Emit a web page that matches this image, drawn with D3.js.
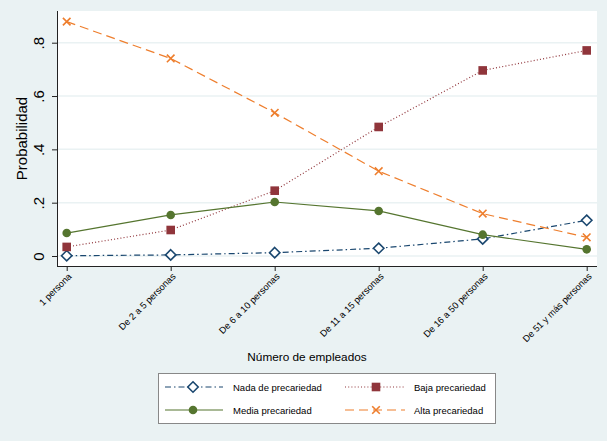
<!DOCTYPE html>
<html>
<head>
<meta charset="utf-8">
<script src="https://cdn.jsdelivr.net/npm/d3@7"></script>
<style>
  html, body { margin: 0; padding: 0; background: #EAF2F3; }
  svg { display: block; font-family: "Liberation Sans", Arial, sans-serif; }
</style>
</head>
<body>
<svg id="chart" width="607" height="441"></svg>
<script>
const categories = ["1 persona", "De 2 a 5 personas", "De 6 a 10 personas", "De 11 a 15 personas", "De 16 a 50 personas", "De 51 y más personas"];
const nada  = [0.001, 0.004, 0.0125, 0.029, 0.064, 0.134];
const baja  = [0.034, 0.0975, 0.245, 0.484, 0.696, 0.771];
const media = [0.086, 0.154, 0.2025, 0.169, 0.080, 0.025];
const alta  = [0.879, 0.741, 0.537, 0.318, 0.159, 0.070];
const yTicks = [0, 0.2, 0.4, 0.6, 0.8];
const yTickLabels = ["0", ".2", ".4", ".6", ".8"];

const series = [
  { name: "Nada de precariedad", values: nada,  color: "#1A476F", dash: "6,3,1.5,3", marker: "diamond" },
  { name: "Baja precariedad",    values: baja,  color: "#90353B", dash: "1,2.2",     marker: "square" },
  { name: "Media precariedad",   values: media, color: "#55752F", dash: null,        marker: "circle" },
  { name: "Alta precariedad",    values: alta,  color: "#EE7E2D", dash: "9,5",       marker: "x" }
];

const svg = d3.select("#chart");
const plot = { left: 57, right: 597, top: 11, bottom: 266 };

svg.append("rect").attr("x", 0).attr("y", 0).attr("width", 607).attr("height", 441).attr("fill", "#EAF2F3");
svg.append("rect").attr("x", plot.left).attr("y", plot.top)
  .attr("width", plot.right - plot.left).attr("height", plot.bottom - plot.top).attr("fill", "#FFFFFF");

const x = d3.scalePoint().domain(categories).range([66.7, 586.7]);
const y = d3.scaleLinear().domain([0, 0.8]).range([256, 42.7]);

// gridlines
svg.append("g").selectAll("line").data(yTicks).join("line")
  .attr("x1", plot.left).attr("x2", plot.right)
  .attr("y1", d => y(d)).attr("y2", d => y(d))
  .attr("stroke", "#EAF2F3").attr("stroke-width", 1.5);

// y axis
const yAxis = svg.append("g").attr("transform", `translate(${plot.left},0)`)
  .call(d3.axisLeft(y).tickValues(yTicks).tickFormat((d, i) => yTickLabels[i]).tickSize(5).tickPadding(0));
yAxis.select(".domain").attr("stroke", "#222").attr("d", `M0.5,${plot.top}V${plot.bottom}`);
yAxis.selectAll(".tick line").attr("stroke", "#222");
yAxis.selectAll(".tick text")
  .attr("x", 0).attr("dy", 0)
  .attr("transform", "translate(-13,0) rotate(-90)")
  .attr("text-anchor", "middle")
  .attr("font-size", 15).attr("fill", "#000")
  .attr("font-family", "Liberation Sans, Arial, sans-serif");

// x axis
const xAxis = svg.append("g").attr("transform", `translate(0,${plot.bottom})`)
  .call(d3.axisBottom(x).tickSize(5).tickPadding(0));
xAxis.select(".domain").attr("stroke", "#222").attr("d", `M${plot.left},0.5H${plot.right}`);
xAxis.selectAll(".tick line").attr("stroke", "#222");
xAxis.selectAll(".tick text")
  .attr("x", 0).attr("y", 0).attr("dy", 0)
  .attr("transform", "translate(5,11) rotate(-45)")
  .attr("text-anchor", "end")
  .attr("font-size", 9.3).attr("fill", "#000")
  .attr("font-family", "Liberation Sans, Arial, sans-serif");

// axis titles
svg.append("text").attr("transform", `translate(27,${(plot.top + plot.bottom) / 2}) rotate(-90)`)
  .attr("text-anchor", "middle").attr("font-size", 15).attr("fill", "#000").text("Probabilidad");
svg.append("text").attr("x", 307).attr("y", 361)
  .attr("text-anchor", "middle").attr("font-size", 11.8).attr("fill", "#000").text("Número de empleados");

function drawMarker(g, type, color, cx, cy) {
  if (type === "diamond") {
    g.append("path").attr("d", `M${cx},${cy - 5.2}L${cx + 5.2},${cy}L${cx},${cy + 5.2}L${cx - 5.2},${cy}Z`)
      .attr("fill", "#fff").attr("stroke", color).attr("stroke-width", 1.6);
  } else if (type === "square") {
    g.append("rect").attr("x", cx - 4.3).attr("y", cy - 4.3).attr("width", 8.6).attr("height", 8.6)
      .attr("fill", color);
  } else if (type === "circle") {
    g.append("circle").attr("cx", cx).attr("cy", cy).attr("r", 4.3).attr("fill", color);
  } else if (type === "x") {
    const s = 3.8;
    g.append("path").attr("d", `M${cx - s},${cy - s}L${cx + s},${cy + s}M${cx - s},${cy + s}L${cx + s},${cy - s}`)
      .attr("stroke", color).attr("stroke-width", 1.6).attr("fill", "none");
  }
}

const line = d3.line().x((d, i) => x(categories[i])).y(d => y(d));
const linesG = svg.append("g");
series.forEach(s => {
  linesG.append("path").datum(s.values).attr("d", line)
    .attr("fill", "none").attr("stroke", s.color).attr("stroke-width", 1.2)
    .attr("stroke-dasharray", s.dash);
});
const markersG = svg.append("g");
series.forEach(s => {
  s.values.forEach((v, i) => drawMarker(markersG, s.marker, s.color, x(categories[i]), y(v)));
});

// legend
const lg = svg.append("g");
lg.append("rect").attr("x", 158.5).attr("y", 373.5).attr("width", 337).attr("height", 50)
  .attr("fill", "#fff").attr("stroke", "#888").attr("stroke-width", 1);
const legPos = [
  { lx1: 165, lx2: 223, mx: 193, tx: 233, y: 387 },
  { lx1: 345, lx2: 405, mx: 376, tx: 414, y: 387 },
  { lx1: 165, lx2: 223, mx: 193, tx: 233, y: 410 },
  { lx1: 345, lx2: 405, mx: 376, tx: 414, y: 410 }
];
series.forEach((s, i) => {
  const p = legPos[i];
  lg.append("line").attr("x1", p.lx1).attr("x2", p.lx2).attr("y1", p.y).attr("y2", p.y)
    .attr("stroke", s.color).attr("stroke-width", 1.2).attr("stroke-dasharray", s.dash);
  drawMarker(lg, s.marker, s.color, p.mx, p.y);
  lg.append("text").attr("x", p.tx).attr("y", p.y + 3.5).attr("font-size", 9.5).attr("fill", "#000").text(s.name);
});
</script>
</body>
</html>
